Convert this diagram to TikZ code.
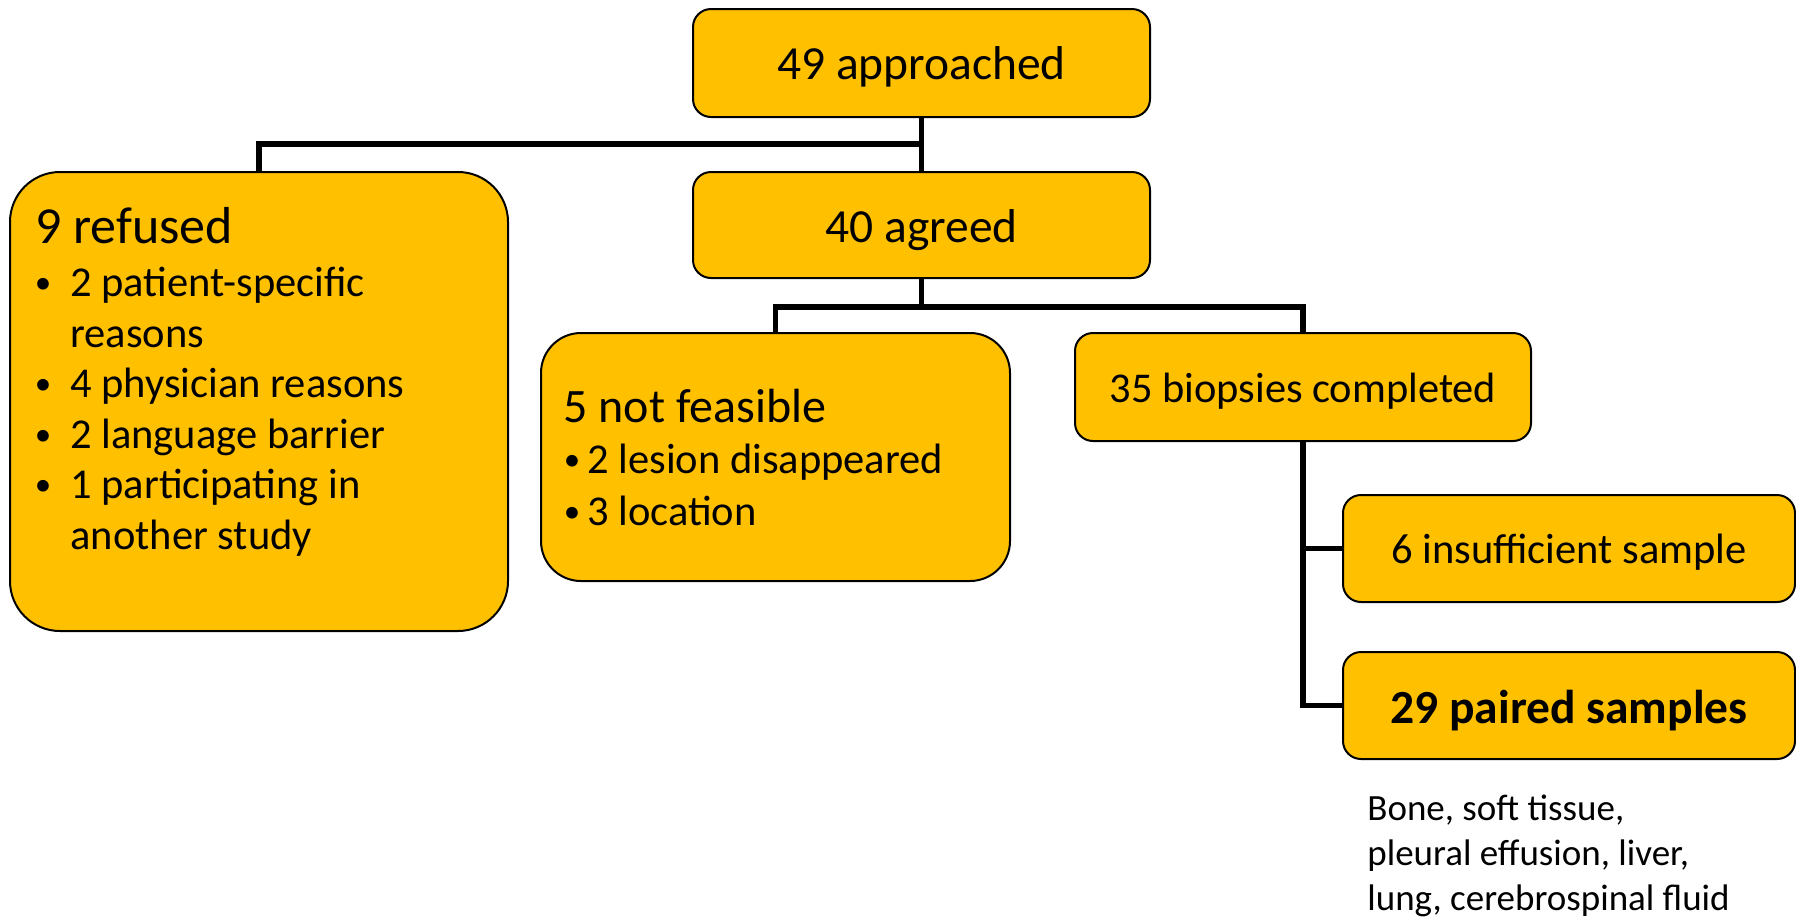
\documentclass[tikz,border=0pt]{standalone}
\usepackage{fontspec}
\setmainfont{Carlito}
\definecolor{boxgold}{HTML}{FFC000}
\newcommand{\smallbullet}{\raisebox{1.5pt}{\fontsize{16.5}{16.5}\selectfont •}}
\begin{document}
\begin{tikzpicture}[x=0.5pt,y=-0.5pt,
  box/.style={draw=black, line width=1pt, fill=boxgold, rounded corners=9pt,
    inner sep=0pt, align=center, text depth=0pt},
  link/.style={draw=black, line width=2.8pt},
  txt/.style={inner sep=0pt, anchor=base west},
  blt/.style={inner sep=0pt, anchor=base},
  fbig/.style={font=\fontsize{23.75}{28}\selectfont},
  fmid/.style={font=\fontsize{21.25}{25}\selectfont},
  fhead/.style={font=\fontsize{26}{31}\selectfont},
  fhead2/.style={font=\fontsize{24}{29}\selectfont},
  fnote/.style={font=\fontsize{18.5}{22}\selectfont},
]
\useasboundingbox (0,0) rectangle (1796,917);

% main boxes
\node[box, fbig, minimum width=228.5pt, minimum height=54pt, text height=16pt] (A) at (921.5,63) {49 approached};
\node[box, fbig, minimum width=228.5pt, minimum height=53pt, text height=17pt] (B) at (921.5,225) {40 agreed};
\node[box, rounded corners=25pt, minimum width=249pt, minimum height=229.5pt] (R) at (259,401.5) {};
\node[box, rounded corners=20pt, minimum width=234.5pt, minimum height=124pt] (N) at (775.5,457) {};
\node[box, font=\fontsize{21.2}{25}\selectfont, minimum width=228pt, minimum height=54pt, text height=15pt] (C) at (1303,387) {35 biopsies completed};
\node[box, fmid, minimum width=226pt, minimum height=53.5pt, text height=14.5pt] (I) at (1569,548.5) {6 insufficient sample};
\node[box, fbig, minimum width=226pt, minimum height=53.5pt, text height=17.5pt] (P) at (1569,705.5) {\bfseries 29 paired samples};

% refused: heading and reasons
\node[txt, fhead] (rh) at (35,243) {9 refused};
\node[blt, fmid] (rb1) at (43,296.5) {\smallbullet};
\node[txt, fmid] (rt1) at (70,296.5) {2 patient-specific};
\node[txt, fmid] (rt2) at (70,347.1) {reasons};
\node[blt, fmid] (rb3) at (43,397.7) {\smallbullet};
\node[txt, fmid] (rt3) at (70,397.7) {4 physician reasons};
\node[blt, fmid] (rb4) at (43,448.3) {\smallbullet};
\node[txt, fmid] (rt4) at (70,448.3) {2 language barrier};
\node[blt, fmid] (rb5) at (43,498.9) {\smallbullet};
\node[txt, fmid] (rt5) at (70,498.9) {1 participating in};
\node[txt, fmid] (rt6) at (70,549.5) {another study};

% not feasible: heading and reasons
\node[txt, fhead2] (nh) at (563,422) {5 not feasible};
\node[blt, fmid] (nb1) at (572,473) {\smallbullet};
\node[txt, fmid] (nt1) at (587,473) {2 lesion disappeared};
\node[blt, fmid] (nb2) at (572,525) {\smallbullet};
\node[txt, fmid] (nt2) at (587,525) {3 location};

% sample types
\node[txt, fnote] (s1) at (1367,820) {Bone, soft tissue,};
\node[txt, fnote] (s2) at (1367,865) {pleural effusion, liver,};
\node[txt, fnote] (s3) at (1367,910) {lung, cerebrospinal fluid};

% connectors
\coordinate (j1) at (921.5,144);
\coordinate (j2) at (921.5,307);
\draw[link] (A.south) -- (B.north);
\draw[link] (j1) -| (R.north);
\draw[link] (B.south) -- (j2);
\draw[link] (N.north) |- (j2) -| (C.north);
\draw[link] (C.south) |- (I.west);
\draw[link] (C.south) |- (P.west);
\end{tikzpicture}
\end{document}
